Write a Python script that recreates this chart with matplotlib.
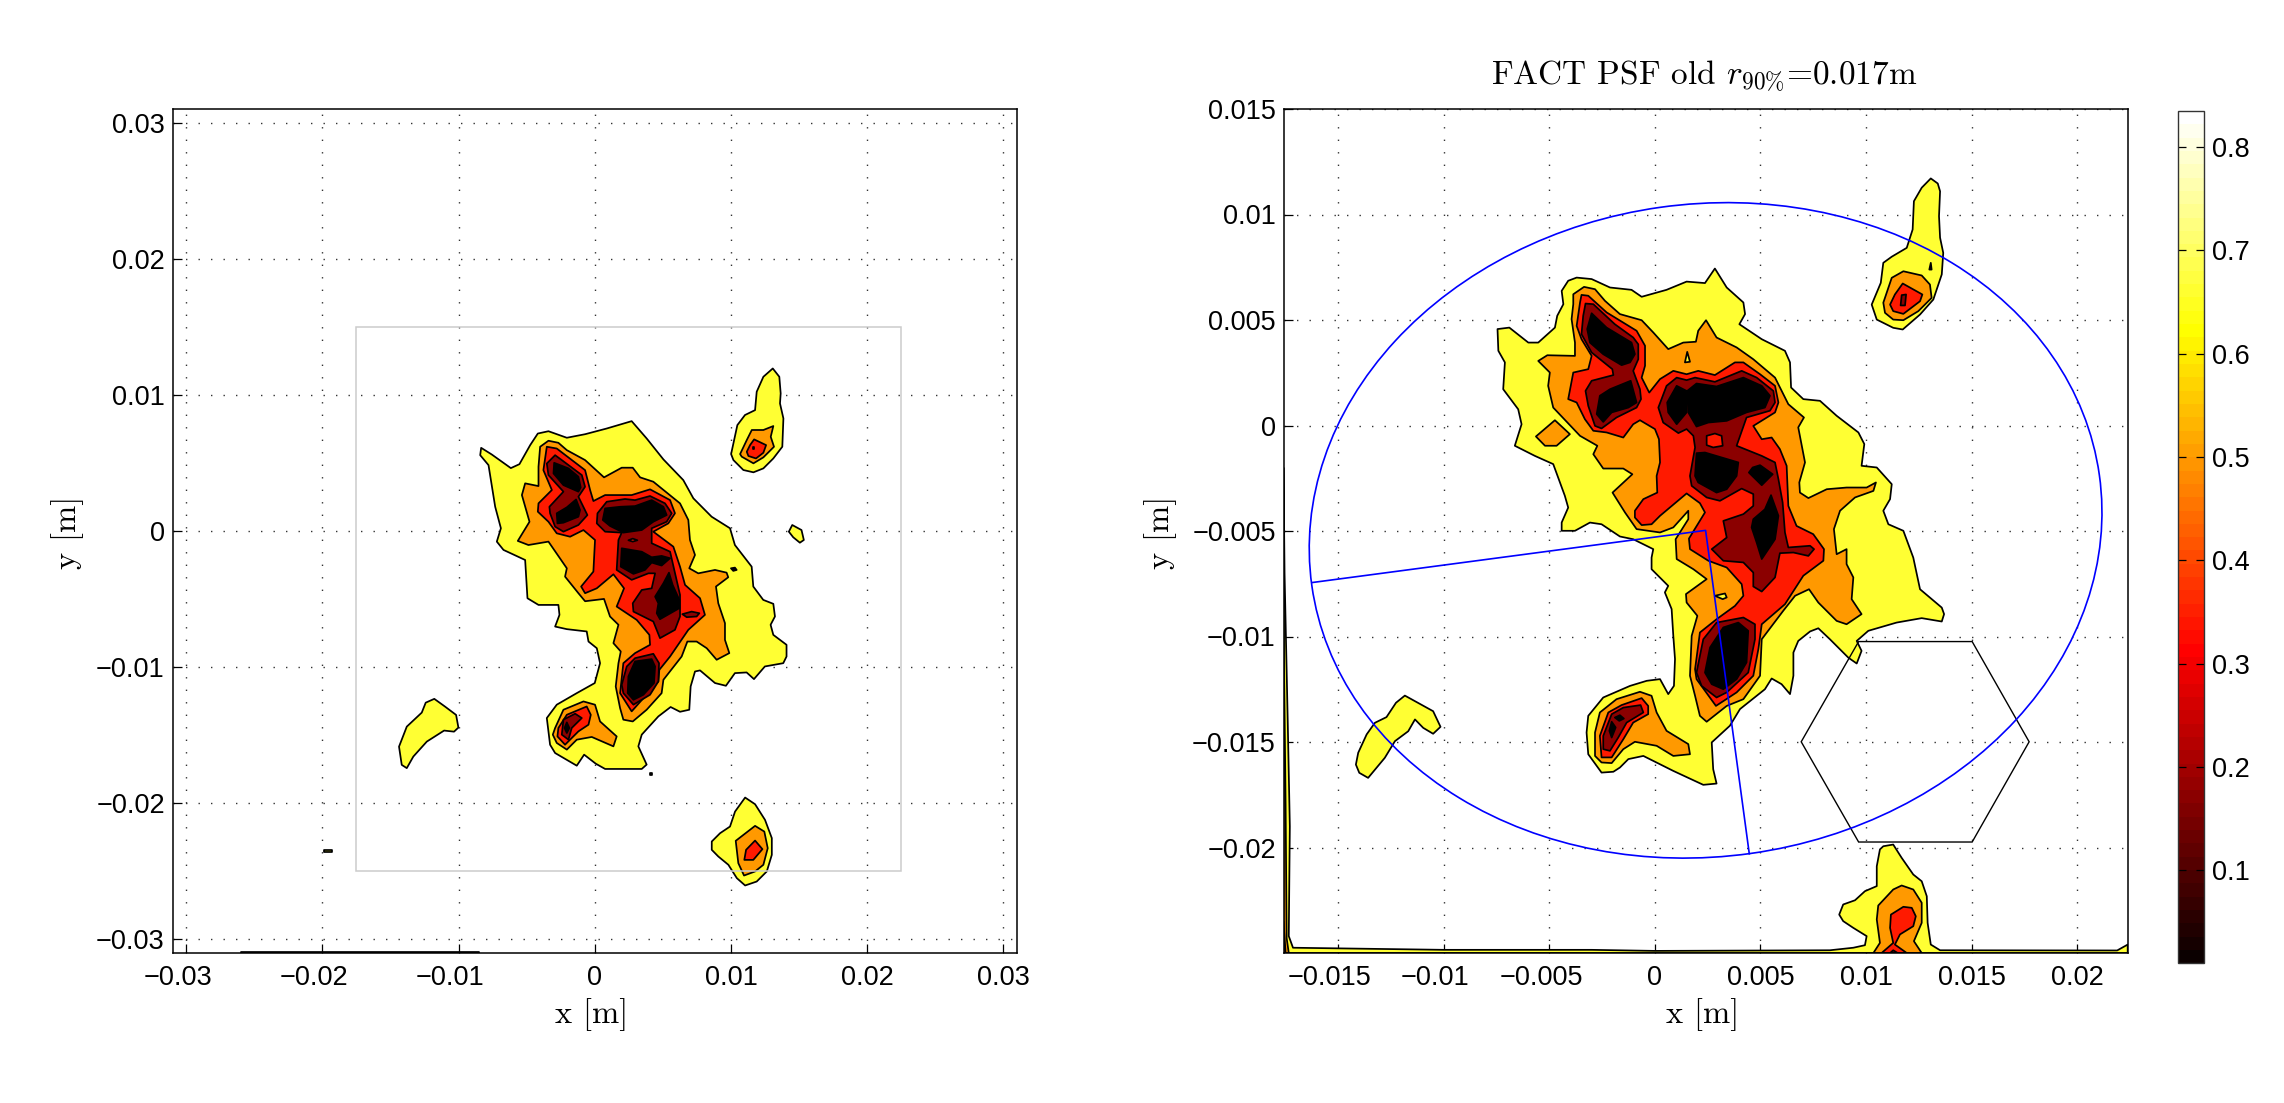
import numpy as np
import matplotlib
matplotlib.use('Agg')
import matplotlib.pyplot as plt
from matplotlib.cm import ScalarMappable
from matplotlib.colors import Normalize
from matplotlib.patches import Ellipse, Rectangle, Polygon
from matplotlib.transforms import ScaledTranslation

plt.rcParams['font.family'] = ['Liberation Sans', 'DejaVu Sans']
plt.rcParams['mathtext.fontset'] = 'cm'
plt.rcParams['axes.unicode_minus'] = True

# ---------- contour outlines, in millimetres ----------
L_YELLOW = [
 [(-8.34,6.11),(-7.56,5.62),(-6.16,4.62),(-5.53,4.91),(-4.74,6.31),(-4.18,7.16),(-3.40,7.33),(-2.05,6.85),(-0.71,7.11),(0.88,7.53),(2.71,8.07),(3.81,6.80),(5.04,5.26),(6.50,3.74),(7.24,2.40),(8.58,1.05),(9.93,0.20),(10.29,-1.03),(11.52,-2.62),(11.64,-4.08),(12.37,-5.06),(13.11,-5.35),(13.23,-6.28),(12.91,-6.89),(13.11,-7.63),(14.08,-8.36),(14.08,-9.22),(13.84,-9.71),(12.49,-9.95),(11.69,-10.88),(11.15,-10.39),(10.29,-10.44),(9.63,-11.37),(8.83,-11.17),(7.73,-10.24),(7.36,-10.32),(7.04,-11.42),(6.94,-13.13),(6.26,-13.28),(5.57,-12.93),(4.67,-13.62),(3.45,-14.96),(3.20,-15.82),(3.81,-17.16),(3.45,-17.48),(0.76,-17.48),(0.07,-17.09),(-0.78,-16.43),(-1.32,-17.24),(-2.91,-16.31),(-3.28,-15.70),(-3.52,-13.74),(-2.79,-12.76),(-1.32,-11.91),(0,-11.17),(0.39,-9.71),(0.15,-8.61),(-0.46,-8.12),(-0.59,-7.38),(-2.05,-7.21),(-2.91,-7.02),(-2.59,-6.16),(-2.67,-5.43),(-4.13,-5.43),(-4.94,-4.94),(-5.11,-2.13),(-6.70,-1.39),(-7.19,-0.78),(-6.89,0.20),(-7.31,1.78),(-7.80,4.84),(-8.41,5.57)],
 [(13.07,11.94),(13.55,11.33),(13.65,10.11),(13.60,9.37),(13.85,8.27),(13.77,6.19),(13.11,5.33),(12.38,4.60),(11.65,4.31),(10.91,4.48),(10.18,5.21),(10.01,5.65),(10.47,7.78),(11.03,8.52),(11.77,8.88),(11.89,10.23),(12.38,11.33)],
 [(14.50,0.44),(15.18,0.07),(15.35,-0.66),(15.06,-0.86),(14.57,-0.46),(14.25,-0.05)],
 [(-12.41,-12.61),(-11.78,-12.33),(-10.99,-12.90),(-10.18,-13.51),(-10.01,-14.44),(-10.33,-14.74),(-11.06,-14.66),(-12.33,-15.47),(-13.32,-16.57),(-13.80,-17.42),(-14.17,-17.18),(-14.37,-15.84),(-13.80,-14.37),(-12.70,-13.34)],
 [(11.04,-19.58),(11.77,-20.07),(12.50,-21.22),(13.00,-22.56),(13.00,-23.79),(12.63,-25.01),(11.89,-25.75),(11.04,-26.04),(10.43,-25.50),(9.81,-24.52),(9.07,-23.91),(8.59,-23.42),(8.59,-22.81),(9.20,-22.20),(9.93,-21.71),(10.30,-20.61)],
 [(-19.9,-23.40),(-19.3,-23.40),(-19.3,-23.55),(-19.9,-23.55)],
 [(-26.0,-30.96),(-8.5,-30.96),(-8.5,-31.0),(-26.0,-31.0)],
]
L_ORANGE = [
 [(-4.01,6.19),(-3.40,6.63),(-2.67,6.48),(-2.05,5.94),(-0.71,5.21),(0.68,3.94),(1.98,4.65),(2.79,4.65),(3.33,3.94),(4.30,3.62),(6.26,2.03),(6.87,0.81),(6.99,-0.66),(7.36,-1.76),(6.94,-2.74),(7.60,-3.11),(8.83,-2.86),(9.68,-3.06),(9.80,-3.40),(8.90,-4.08),(9.07,-5.31),(9.56,-6.77),(9.56,-8.00),(9.88,-8.97),(8.95,-9.46),(8.22,-8.61),(7.48,-8.12),(6.80,-8.12),(6.38,-9.22),(5.04,-10.93),(4.91,-11.91),(3.81,-13.13),(2.79,-13.99),(2.10,-13.86),(1.86,-13.01),(1.54,-11.42),(1.74,-9.71),(1.91,-8.85),(1.37,-8.24),(1.74,-6.89),(1.12,-6.28),(0.68,-4.99),(-0.71,-5.16),(-1.20,-4.57),(-2.18,-3.35),(-2.05,-2.74),(-3.40,-0.78),(-4.87,-1.03),(-5.65,-0.73),(-4.79,0.68),(-5.35,2.64),(-5.11,3.50),(-4.13,3.30),(-4.13,4.72)],
 [(-2.91,-14.47),(-2.30,-13.13),(-0.83,-12.52),(0.02,-12.76),(0.39,-13.99),(1.61,-15.09),(1.37,-15.82),(-0.22,-15.13),(-1.32,-15.33),(-2.05,-16.06),(-2.79,-15.57),(-3.08,-14.96)],
 [(11.53,7.42),(12.38,7.42),(13.11,7.71),(12.92,6.92),(13.16,6.19),(12.38,5.41),(11.65,4.97),(10.79,5.46),(10.67,5.65),(11.16,6.68)],
 [(10.35,-22.76),(11.77,-21.66),(12.45,-22.08),(12.70,-23.30),(12.38,-24.52),(11.77,-25.01),(10.96,-25.31),(10.54,-24.40)],
]
L_RED = [
 [(-3.52,6.19),(-2.79,6.06),(-0.71,4.47),(-0.34,3.01),(-0.10,2.20),(0.76,2.64),(2.71,2.64),(4.06,3.06),(5.53,2.27),(5.89,1.30),(5.40,0.56),(4.30,-0.05),(5.77,-1.15),(6.26,-2.62),(6.63,-3.96),(7.73,-4.94),(8.09,-6.16),(6.87,-7.26),(5.53,-9.22),(4.74,-10.20),(4.67,-11.05),(2.71,-13.25),(1.86,-11.91),(2.10,-9.71),(2.96,-8.97),(4.06,-8.36),(4.01,-7.63),(3.08,-6.53),(1.61,-5.55),(2.15,-4.21),(1.37,-3.18),(0.15,-4.21),(-0.71,-4.57),(-1.00,-4.08),(-0.10,-2.98),(0.02,-0.66),(-0.83,0.07),(-1.81,-0.42),(-2.79,-0.17),(-3.40,0.68),(-4.18,1.42),(-4.13,2.03),(-3.15,3.01),(-3.77,4.47)],
 [(-2.67,-14.47),(-2.05,-13.50),(-0.59,-12.89),(-0.29,-13.50),(-0.46,-14.23),(-1.20,-14.72),(-2.18,-15.70),(-2.74,-15.09)],
 [(11.70,6.73),(12.58,6.31),(12.38,5.75),(11.84,5.33),(11.28,5.51),(11.16,5.82),(11.40,6.31)],
 [(11.77,-22.74),(12.31,-23.37),(11.64,-24.16),(10.98,-24.16),(11.11,-23.42)],
]
L_DARK = [
 [(-2.91,5.57),(-2.42,5.21),(-0.95,4.11),(-0.71,3.25),(-1.20,2.52),(-0.54,1.17),(-1.20,0.44),(-2.30,-0.05),(-2.91,0.32),(-3.28,1.30),(-3.33,1.78),(-2.30,2.89),(-3.40,4.11),(-3.52,4.96)],
 [(0.88,2.15),(2.22,2.35),(2.96,2.27),(4.06,2.57),(5.16,2.03),(5.65,1.30),(5.28,0.68),(4.18,0.20),(4.18,-0.90),(5.53,-1.52),(6.26,-4.69),(6.26,-6.28),(5.89,-7.26),(4.79,-7.87),(4.30,-6.65),(2.84,-5.92),(2.79,-5.31),(3.45,-4.33),(4.18,-4.21),(4.43,-3.11),(3.94,-3.11),(2.71,-3.59),(1.61,-2.86),(1.74,-0.66),(1.98,-0.12),(0.76,-0.05),(0.15,0.56),(0.20,1.30)],
 [(2.96,-9.34),(4.30,-9.02),(4.72,-9.71),(4.67,-11.05),(4.06,-12.03),(2.84,-12.76),(2.10,-11.91),(1.98,-11.30),(2.35,-9.95)],
 [(6.43,-6.11),(7.11,-5.92),(7.68,-6.04),(7.48,-6.28),(6.75,-6.33)],
 [(-2.30,-13.86),(-1.44,-13.42),(-0.95,-13.74),(-1.69,-14.47),(-1.93,-15.33),(-2.42,-14.96)],
]
L_BLACK = [
 [(-2.98,5.01),(-1.93,4.60),(-1.20,3.99),(-1.03,3.20),(-1.20,2.89),(-2.30,3.37),(-3.03,4.23)],
 [(-1.37,2.32),(-1.08,1.54),(-1.20,1.05),(-2.30,0.61),(-2.74,0.56),(-2.79,1.30),(-2.05,1.74)],
 [(0.76,1.66),(1.86,1.78),(2.96,1.83),(4.18,2.27),(5.04,1.78),(5.28,1.17),(4.30,0.68),(3.45,0.07),(2.10,-0.12),(1.12,0.37),(0.59,0.81)],
 [(1.98,-1.27),(3.45,-1.52),(4.18,-1.93),(4.91,-1.83),(5.53,-2.00),(4.91,-2.54),(4.18,-2.32),(3.69,-2.86),(2.84,-3.15),(1.91,-2.62)],
 [(5.45,-3.06),(5.72,-3.96),(6.21,-5.06),(6.21,-5.67),(4.79,-6.48),(4.55,-6.04),(4.67,-5.31),(4.43,-4.82),(5.04,-3.84)],
 [(2.96,-9.58),(4.18,-9.41),(4.43,-9.95),(4.35,-11.17),(3.57,-12.03),(2.84,-12.40),(2.42,-11.91),(2.47,-10.68)],
 [(-2.05,-14.06),(-1.86,-14.47),(-2.05,-14.84),(-2.22,-14.47)],
 [(11.62,6.17),(11.72,6.17),(11.72,6.05),(11.62,6.05)],
 [(10.00,-2.74),(10.29,-2.69),(10.42,-2.86),(10.17,-2.93)],
 [(4.05,-17.78),(4.18,-17.78),(4.18,-17.90),(4.05,-17.90)],
]
L_ISLANDS_RED = [
 [(2.47,-0.68),(2.79,-0.56),(3.13,-0.68),(2.79,-0.78)],
]

R_YELLOW = [
 [(-7.46,4.57),(-6.90,4.64),(-6.00,3.93),(-5.53,3.93),(-4.74,4.64),(-4.63,5.20),(-4.34,5.75),(-4.42,6.38),(-4.11,6.86),(-3.71,7.01),(-3.00,6.94),(-2.13,6.54),(-1.11,6.43),(-0.63,6.10),(0.55,6.43),(1.50,6.82),(2.37,6.75),(2.84,7.44),(3.40,6.54),(4.19,5.83),(4.27,5.28),(4.00,4.80),(5.06,4.09),(6.16,3.54),(6.40,2.99),(6.45,1.80),(7.03,1.25),(7.82,1.17),(8.61,0.46),(9.64,-0.33),(9.92,-0.88),(9.79,-1.91),(10.51,-1.99),(11.22,-2.78),(11.14,-3.49),(10.82,-4.04),(11.06,-4.68),(11.77,-4.99),(12.24,-6.26),(12.56,-7.76),(13.59,-8.63),(13.70,-8.94),(13.59,-9.29),(12.64,-9.13),(11.45,-9.34),(10.11,-9.73),(9.56,-10.21),(9.79,-10.68),(9.56,-11.28),(9.16,-11.00),(8.29,-10.13),(7.74,-9.61),(7.35,-9.76),(6.79,-10.21),(6.56,-10.76),(6.56,-11.86),(6.40,-12.73),(6.00,-12.26),(5.53,-11.99),(5.21,-12.50),(4.03,-13.44),(3.55,-14.23),(2.69,-15.02),(2.76,-16.29),(2.92,-16.97),(2.29,-17.03),(0.87,-16.37),(-0.55,-15.66),(-1.26,-15.81),(-1.66,-16.21),(-1.97,-16.41),(-2.53,-16.45),(-3.16,-15.58),(-3.24,-14.55),(-3.16,-13.76),(-2.45,-12.89),(-1.18,-12.34),(-0.39,-12.10),(0.24,-12.02),(0.63,-12.73),(0.90,-12.34),(0.95,-11.07),(0.87,-9.97),(0.79,-8.70),(0.47,-7.91),(0.63,-7.60),(-0.16,-6.81),(-0.16,-6.26),(-0.08,-5.86),(-1.03,-5.39),(-1.66,-5.26),(-2.53,-4.68),(-3.08,-4.60),(-3.79,-4.99),(-4.42,-4.99),(-4.42,-4.60),(-4.11,-3.89),(-4.27,-3.33),(-4.82,-1.83),(-5.69,-1.44),(-6.64,-0.96),(-6.32,0.06),(-6.48,0.77),(-7.19,1.72),(-7.11,2.99),(-7.42,3.54)],
 [(13.07,11.71),(13.40,11.47),(13.51,11.10),(13.46,9.92),(13.51,8.90),(13.66,8.18),(13.59,7.16),(13.19,5.97),(12.56,5.26),(11.74,4.55),(11.29,4.63),(10.51,5.02),(10.27,5.73),(10.70,6.76),(10.82,7.71),(11.22,8.00),(11.93,8.42),(12.21,9.29),(12.27,10.63),(12.64,11.27)],
 [(-11.85,-12.80),(-10.51,-13.54),(-10.16,-14.28),(-10.51,-14.61),(-10.98,-14.33),(-11.37,-13.93),(-11.69,-14.49),(-12.32,-14.96),(-12.80,-15.75),(-13.59,-16.70),(-14.01,-16.46),(-14.17,-16.07),(-14.06,-15.51),(-13.66,-14.64),(-13.27,-14.09),(-12.72,-13.82),(-12.27,-13.14)],
 [(10.82,-19.94),(11.29,-19.86),(11.69,-20.49),(12.24,-21.28),(12.64,-21.60),(12.88,-22.31),(12.92,-23.57),(13.07,-24.60),(13.51,-24.87),(21.9,-24.88),(22.4,-24.6),(22.4,-25.0),(-17.6,-25.0),(-17.6,-2.0),(-17.55,-7.0),(-17.4,-14.0),(-17.3,-19.0),(-17.35,-24.2),(-17.15,-24.75),(-10.0,-24.85),(-3.0,-24.85),(0.0,-24.9),(8.29,-24.87),(9.40,-24.75),(9.95,-24.63),(10.03,-24.20),(9.40,-23.81),(8.92,-23.49),(8.73,-23.18),(8.92,-22.70),(9.48,-22.50),(9.95,-22.07),(10.51,-21.83),(10.51,-20.89),(10.66,-20.09)],
]
R_ORANGE = [
 [(-3.87,6.22),(-3.36,6.57),(-2.84,6.46),(-2.37,5.91),(-1.66,5.28),(-0.63,4.99),(-0.08,4.41),(0.63,3.62),(1.34,3.93),(1.94,3.97),(2.05,4.49),(2.42,4.99),(2.92,4.17),(3.87,3.70),(4.66,3.14),(5.69,2.27),(6.32,1.01),(7.06,0.38),(6.79,-0.09),(7.11,-1.75),(6.84,-2.70),(6.87,-3.18),(7.27,-3.44),(8.14,-3.02),(9.08,-2.94),(10.03,-2.94),(10.47,-2.70),(10.35,-3.10),(9.48,-3.41),(8.77,-4.04),(8.48,-4.91),(8.61,-6.10),(9.08,-5.86),(9.08,-6.57),(9.40,-7.20),(9.32,-8.23),(9.79,-8.94),(9.08,-9.42),(8.61,-9.26),(7.74,-8.39),(7.30,-7.76),(6.64,-8.07),(6.08,-8.78),(5.06,-10.13),(4.98,-11.86),(4.19,-12.97),(3.40,-13.29),(2.45,-14.04),(2.13,-13.76),(1.90,-12.81),(1.66,-11.86),(1.74,-9.97),(2.01,-9.02),(1.50,-8.39),(1.47,-7.99),(2.45,-7.28),(1.82,-6.81),(1.03,-6.33),(0.98,-5.39),(1.58,-4.44),(1.58,-4.04),(0.87,-4.83),(0.24,-5.07),(-0.87,-4.91),(-1.42,-4.12),(-2.01,-3.18),(-1.07,-2.31),(-1.50,-2.04),(-2.45,-2.04),(-2.92,-1.36),(-2.73,-0.96),(-3.55,-0.49),(-4.82,0.85),(-5.06,1.88),(-4.98,2.51),(-5.53,3.06),(-5.10,3.33),(-3.79,3.30),(-3.79,3.93),(-3.95,5.04),(-3.87,5.75)],
 [(-4.74,0.25),(-4.03,-0.41),(-4.66,-0.96),(-5.21,-0.96),(-5.64,-0.52)],
 [(-2.84,-14.55),(-2.61,-13.60),(-1.82,-12.97),(-0.71,-12.62),(-0.16,-12.81),(0.08,-13.60),(0.55,-14.47),(1.58,-15.10),(1.66,-15.58),(0.87,-15.66),(0.08,-15.18),(-0.95,-14.99),(-1.50,-15.34),(-2.05,-16.00),(-2.53,-15.97),(-2.84,-15.66)],
 [(11.22,7.00),(11.77,7.31),(12.64,7.11),(13.03,6.68),(13.11,6.05),(12.48,5.42),(11.77,4.99),(11.29,5.02),(10.90,5.34),(10.82,5.82)],
 [(10.58,-22.75),(11.29,-21.99),(11.69,-21.80),(12.24,-21.99),(12.64,-22.62),(12.64,-23.57),(12.27,-24.44),(12.64,-25.0),(10.35,-25.0),(10.66,-24.52),(10.51,-23.41)],
 [(-17.6,-9.0),(-17.5,-18.0),(-17.45,-24.3),(-17.35,-25.0),(-17.6,-25.0)],
]
R_RED = [
 [(-3.48,6.19),(-3.16,6.15),(-2.29,5.36),(-0.87,4.49),(-0.47,3.78),(-0.47,2.83),(-0.63,2.27),(-0.27,1.56),(0.24,2.20),(0.87,2.59),(1.50,2.43),(2.05,2.59),(2.84,2.39),(3.79,2.99),(4.19,2.99),(4.98,2.43),(5.69,1.88),(5.85,1.09),(5.69,0.62),(4.66,-0.02),(5.06,-0.65),(5.53,-0.57),(5.92,-1.12),(6.24,-1.91),(6.32,-3.81),(6.71,-4.76),(7.50,-5.15),(8.01,-5.86),(7.98,-6.41),(7.03,-7.12),(6.16,-8.47),(5.06,-9.42),(4.90,-10.60),(4.66,-11.86),(3.87,-12.65),(2.89,-13.29),(1.97,-12.02),(1.90,-11.55),(2.13,-9.81),(2.92,-9.18),(3.79,-8.55),(4.19,-8.07),(4.11,-7.52),(3.40,-6.73),(2.53,-6.41),(1.66,-5.86),(1.61,-5.36),(2.37,-4.12),(2.13,-3.68),(1.50,-3.22),(0.24,-4.28),(-0.16,-4.68),(-0.63,-4.72),(-0.95,-4.36),(-0.95,-4.04),(-0.55,-3.49),(0.11,-3.18),(0.08,-2.39),(0.24,-1.75),(0.19,-0.65),(0,-0.17),(-0.71,0.25),(-1.03,0.06),(-1.50,-0.57),(-2.29,-0.33),(-2.92,-0.25),(-3.32,0.30),(-3.71,1.09),(-4.11,1.25),(-3.87,2.51),(-3.16,2.67),(-3.00,3.30),(-3.48,4.09),(-3.71,4.72),(-3.55,5.83)],
 [(-2.61,-14.71),(-2.21,-13.60),(-1.58,-13.25),(-0.63,-12.92),(-0.32,-13.29),(-0.32,-13.68),(-1.03,-14.08),(-1.50,-14.87),(-2.05,-15.73),(-2.53,-15.73)],
 [(11.74,6.73),(12.67,6.21),(12.56,5.89),(11.77,5.29),(11.29,5.42),(11.14,5.73),(11.37,6.21)],
 [(11.18,-23.18),(11.77,-22.81),(12.17,-22.86),(12.36,-23.26),(12.24,-23.73),(11.61,-24.12),(11.37,-24.60),(11.93,-25.0),(10.74,-25.0),(11.29,-24.52),(11.14,-23.81)],
 [(-17.6,-23.5),(-17.5,-25.0),(-17.6,-25.0)],
]
R_DARK = [
 [(-3.29,5.78),(-2.92,5.75),(-1.90,4.80),(-1.03,4.17),(-0.79,3.85),(-0.79,3.14),(-1.03,2.59),(-0.71,1.72),(-0.66,1.25),(-0.87,0.85),(-1.82,0.38),(-2.53,-0.14),(-2.84,-0.02),(-3.16,0.93),(-3.29,1.64),(-3.00,2.12),(-1.97,2.39),(-2.02,2.67),(-3.00,3.46),(-3.48,4.33),(-3.40,5.20)],
 [(1.03,2.27),(1.50,2.15),(1.90,2.27),(2.84,2.07),(4.11,2.59),(4.82,2.27),(5.61,1.64),(5.69,1.09),(5.45,0.70),(4.34,0.38),(3.87,-0.96),(5.06,-1.44),(5.69,-1.75),(5.85,-2.54),(6.05,-3.65),(6.16,-5.07),(6.32,-5.78),(7.35,-5.70),(7.54,-5.86),(7.27,-6.18),(6.56,-6.02),(5.92,-6.05),(5.69,-7.20),(5.06,-7.87),(4.66,-7.63),(4.66,-6.97),(4.19,-6.49),(3.24,-6.41),(2.69,-5.86),(3.40,-5.31),(3.24,-4.52),(4.19,-4.20),(4.66,-3.81),(4.66,-3.25),(4.11,-2.99),(3.08,-3.57),(2.45,-3.41),(1.74,-2.86),(1.66,-2.39),(1.90,-1.04),(1.82,-0.49),(1.50,-0.17),(1.11,-0.36),(0.39,0.14),(0.16,0.85),(0.55,1.88)],
 [(2.92,-9.34),(4.19,-9.10),(4.74,-9.42),(4.74,-10.13),(4.42,-11.71),(3.40,-12.65),(2.92,-12.89),(2.21,-12.34),(1.97,-11.71),(2.29,-10.13)],
 [(-2.45,-14.71),(-2.05,-13.68),(-1.50,-13.37),(-0.68,-13.25),(-0.55,-13.60),(-1.34,-14.08),(-1.74,-14.79),(-2.13,-15.42),(-2.45,-15.34)],
 [(11.69,6.18),(11.90,6.21),(11.85,5.69),(11.64,5.69)],
 [(13.07,7.71),(13.11,7.39),(13.00,7.39)],
 [(11.14,-25.0),(11.29,-24.87),(11.50,-25.0)],
]
R_BLACK = [
 [(-3.00,5.32),(-2.29,4.64),(-1.11,3.93),(-0.95,3.38),(-1.18,2.99),(-1.58,2.86),(-2.45,3.38),(-3.08,3.93),(-3.21,4.57)],
 [(-1.15,2.12),(-0.87,1.09),(-1.26,0.85),(-2.05,0.62),(-2.45,0.17),(-2.76,0.54),(-2.61,1.41),(-2.13,1.72)],
 [(1.03,1.88),(1.50,1.64),(1.50,0.62),(1.03,0.06),(0.63,0.62),(0.58,1.09)],
 [(1.97,1.99),(2.92,1.85),(4.19,2.27),(5.06,1.88),(5.45,1.41),(5.21,0.85),(4.34,0.62),(3.40,0.22),(2.53,0.14),(1.97,-0.05),(1.58,0.62),(1.53,1.64)],
 [(1.97,-1.31),(2.37,-1.28),(3.95,-1.75),(3.87,-2.39),(3.40,-3.02),(2.92,-3.18),(2.05,-2.70),(1.90,-2.39)],
 [(4.98,-1.88),(5.58,-2.31),(5.06,-2.83),(4.45,-2.23),(4.63,-1.99)],
 [(5.50,-3.30),(5.85,-4.28),(5.69,-5.39),(5.06,-6.33),(4.82,-5.55),(4.58,-4.83),(4.66,-4.44),(5.21,-3.97)],
 [(3.24,-9.57),(3.95,-9.34),(4.42,-9.73),(4.34,-11.23),(3.87,-12.02),(3.24,-12.50),(2.69,-12.26),(2.37,-11.71),(2.61,-10.52)],
 [(-2.05,-14.04),(-1.86,-14.31),(-2.05,-14.79),(-2.16,-14.47)],
 [(-1.90,-13.84),(-1.66,-13.73),(-1.47,-13.89),(-1.69,-14.00)],
]
R_ISLANDS_RED = [
 [(2.45,-0.49),(2.84,-0.38),(3.16,-0.49),(3.21,-0.96),(2.76,-1.04),(2.45,-0.93)],
]
R_ISLANDS_YELLOW = [
 [(1.53,3.49),(1.66,3.02),(1.42,2.99)],
 [(2.84,-8.07),(3.32,-7.96),(3.40,-8.15),(3.21,-8.23)],
]

# ---------- overlays (metres) ----------
FIELD_X = [-0.0175, 0.0225]
FIELD_Y = [-0.025, 0.015]
ELLIPSE_CENTER = (0.0024, -0.00497)
ELLIPSE_MAJOR = 0.01884
ELLIPSE_MINOR = 0.01546
ELLIPSE_TILT = 8.0
SECTOR_X = [-0.01622, 0.0024, 0.00447]
SECTOR_Y = [-0.00744, -0.00497, -0.0203]
HEX_X = [0.00693, 0.00965, 0.01503, 0.01773, 0.01503, 0.00965]
HEX_Y = [-0.01499, -0.01024, -0.01024, -0.01499, -0.01974, -0.01974]

L_XTICKS = [-0.03, -0.02, -0.01, 0, 0.01, 0.02, 0.03]
L_XLABELS = ['\u22120.03', '\u22120.02', '\u22120.01', '0', '0.01', '0.02', '0.03']
R_XTICKS = [-0.015, -0.01, -0.005, 0, 0.005, 0.01, 0.015, 0.02]
R_XLABELS = ['\u22120.015', '\u22120.01', '\u22120.005', '0', '0.005', '0.01', '0.015', '0.02']
R_YTICKS = [-0.02, -0.015, -0.01, -0.005, 0, 0.005, 0.01, 0.015]
R_YLABELS = ['\u22120.02', '\u22120.015', '\u22120.01', '\u22120.005', '0', '0.005', '0.01', '0.015']
CB_TICKS = [0.1, 0.2, 0.3, 0.4, 0.5, 0.6, 0.7, 0.8]
CB_RANGE = (0.01, 0.835)
TITLE = r'FACT PSF old $r_{90\%}$=0.017m'

YELLOW, ORANGE, RED, DARK, BLACK = '#ffff33', '#ff9900', '#ff1a00', '#8b0000', '#000000'

W, H = 2284, 1103
fig = plt.figure(figsize=(W / 100, H / 100), dpi=100, facecolor='white')

def box(x0, x1, ytop, ybot):
    return [x0 / W, (H - ybot) / H, (x1 - x0) / W, (ybot - ytop) / H]

def paint(ax, polys, color):
    for p in polys:
        a = np.asarray(p, float) * 1e-3
        ax.add_patch(Polygon(a, closed=True, facecolor=color, edgecolor='black',
                             linewidth=1.25, joinstyle='round', zorder=2))

def style(ax, xt, xl, yt, yl):
    ax.set_xticks(xt); ax.set_xticklabels(xl)
    ax.set_yticks(yt); ax.set_yticklabels(yl)
    ax.tick_params(direction='in', length=6.5, width=0.9, labelsize=19.5, top=False, right=False)
    ax.tick_params(axis='y', pad=5.5)
    ax.tick_params(axis='x', pad=8.5)
    ax.grid(True, linestyle=(0, (1, 8)), linewidth=1.0, color='#333333')
    ax.set_axisbelow(True)
    for s in ax.spines.values():
        s.set_linewidth(1.1); s.set_zorder(5)
    # the digits sit centred on the tick; the minus sign hangs to the left
    shift = ScaledTranslation(-8.5 / 100, 0, fig.dpi_scale_trans)
    for lab in ax.get_xticklabels():
        if lab.get_text().startswith('\u2212'):
            lab.set_transform(lab.get_transform() + shift)

LABEL = dict(family='cmr10', fontsize=23.5)

# left panel
ax1 = fig.add_axes(box(172.5, 1017, 109, 953))
ax1.set_xlim(-0.031, 0.031); ax1.set_ylim(-0.031, 0.031)
for polys, col in [(L_YELLOW, YELLOW), (L_ORANGE, ORANGE), (L_RED, RED), (L_DARK, DARK), (L_BLACK, BLACK), (L_ISLANDS_RED, RED)]:
    paint(ax1, polys, col)
ax1.add_patch(Rectangle((FIELD_X[0], FIELD_Y[0]), FIELD_X[1] - FIELD_X[0], FIELD_Y[1] - FIELD_Y[0],
                        fill=False, edgecolor='#cccccc', linewidth=1.1, zorder=3))
style(ax1, L_XTICKS, L_XLABELS, L_XTICKS, L_XLABELS)
fig.text(592 / W, 1 - 1015 / H, 'x [m]', ha='center', va='center', **LABEL)
fig.text(68 / W, 1 - 532 / H, 'y [m]', ha='center', va='center', rotation=90, **LABEL)

# right panel
ax2 = fig.add_axes(box(1283.5, 2127.7, 109, 953))
ax2.set_xlim(-0.0176, 0.0224); ax2.set_ylim(-0.025, 0.015)
for polys, col in [(R_YELLOW, YELLOW), (R_ORANGE, ORANGE), (R_RED, RED), (R_DARK, DARK), (R_BLACK, BLACK),
                   (R_ISLANDS_RED, RED), (R_ISLANDS_YELLOW, YELLOW)]:
    paint(ax2, polys, col)
ax2.add_patch(Polygon(np.column_stack([HEX_X, HEX_Y]), closed=True, fill=False, edgecolor='black', linewidth=1.0, zorder=3))
ax2.add_patch(Ellipse(ELLIPSE_CENTER, 2 * ELLIPSE_MAJOR, 2 * ELLIPSE_MINOR, angle=ELLIPSE_TILT,
                      fill=False, edgecolor='#0000ff', linewidth=1.2, zorder=4))
ax2.plot(SECTOR_X, SECTOR_Y, color='#0000ff', linewidth=1.2, zorder=4)
style(ax2, R_XTICKS, R_XLABELS, R_YTICKS, R_YLABELS)
fig.text(1704.5 / W, 1 - 85 / H, TITLE, ha='center', va='baseline', family='cmr10', fontsize=24)
fig.text(1703 / W, 1 - 1015 / H, 'x [m]', ha='center', va='center', **LABEL)
fig.text(1161 / W, 1 - 532 / H, 'y [m]', ha='center', va='center', rotation=90, **LABEL)

# colour bar
cax = fig.add_axes(box(2178, 2204, 111, 963.3))
sm = ScalarMappable(Normalize(*CB_RANGE), plt.get_cmap('hot', 64))
cb = fig.colorbar(sm, cax=cax, ticks=CB_TICKS)
cb.ax.set_yticklabels([f'{t:.1f}' for t in CB_TICKS])
cb.ax.tick_params(direction='in', length=5.8, width=0.9, left=True, right=True, labelsize=19.5, pad=6, color='black')
cb.outline.set_linewidth(1.0)
cb.outline.set_edgecolor('#333333')

fig.savefig('out.png', dpi=100, facecolor='white')
